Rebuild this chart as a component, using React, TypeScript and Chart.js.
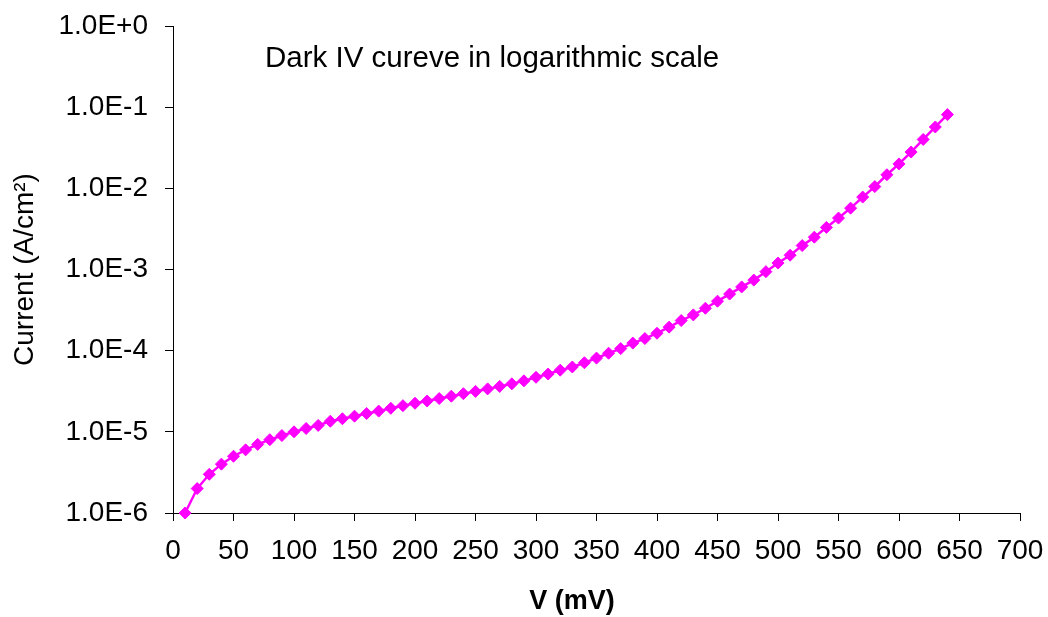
import React, { useEffect, useRef } from 'react';
import { Chart, registerables } from 'chart.js';

Chart.register(...registerables);

const voltages = [
  10, 20, 30, 40, 50, 60, 70, 80, 90, 100,
  110, 120, 130, 140, 150, 160, 170, 180, 190, 200,
  210, 220, 230, 240, 250, 260, 270, 280, 290, 300,
  310, 320, 330, 340, 350, 360, 370, 380, 390, 400,
  410, 420, 430, 440, 450, 460, 470, 480, 490, 500,
  510, 520, 530, 540, 550, 560, 570, 580, 590, 600,
  610, 620, 630, 640,
];

const currents = [
  1.0e-6, 2.0e-6, 3.0e-6, 4.0e-6, 5.0e-6, 6.0e-6, 7.0e-6, 8.0e-6, 9.0e-6, 1.0e-5,
  1.1e-5, 1.2e-5, 1.35e-5, 1.45e-5, 1.56e-5, 1.68e-5, 1.8e-5, 1.95e-5, 2.1e-5, 2.25e-5,
  2.4e-5, 2.57e-5, 2.75e-5, 2.95e-5, 3.15e-5, 3.38e-5, 3.63e-5, 3.9e-5, 4.25e-5, 4.7e-5,
  5.15e-5, 5.75e-5, 6.3e-5, 7.1e-5, 8.1e-5, 9.3e-5, 1.06e-4, 1.24e-4, 1.41e-4, 1.64e-4,
  1.95e-4, 2.35e-4, 2.76e-4, 3.33e-4, 4.07e-4, 4.98e-4, 6.1e-4, 7.4e-4, 9.4e-4, 1.2e-3,
  1.5e-3, 1.97e-3, 2.5e-3, 3.3e-3, 4.3e-3, 5.7e-3, 7.8e-3, 1.05e-2, 1.47e-2, 2.0e-2,
  2.8e-2, 4.0e-2, 5.7e-2, 8.1e-2,
];

const yTickValues = [1e-6, 1e-5, 1e-4, 1e-3, 1e-2, 1e-1, 1];
const xMin = 0;
const xMax = 700;
const xStep = 50;

const chartTitle = 'Dark IV cureve in logarithmic scale';
const xTitle = 'V (mV)';
const yTitle = 'Current (A/cm²)';

const FONT = '"Liberation Sans", Arial, sans-serif';

const textPlugin = {
  id: 'textPlugin',
  afterDraw(chart: any) {
    const { ctx, chartArea } = chart;
    ctx.save();
    ctx.fillStyle = '#000';
    ctx.textBaseline = 'middle';
    ctx.textAlign = 'left';
    ctx.font = `29.5px ${FONT}`;
    ctx.fillText(chartTitle, chartArea.left + 92, chartArea.top + 33);
    ctx.textAlign = 'center';
    ctx.font = `bold 27px ${FONT}`;
    ctx.fillText(xTitle, 572, 602);
    ctx.restore();
  },
};

export default function App() {
  const canvasRef = useRef<HTMLCanvasElement | null>(null);

  useEffect(() => {
    if (!canvasRef.current) return;
    const points = voltages.map((v, i) => ({ x: v, y: currents[i] }));
    const chart = new Chart(canvasRef.current, {
      type: 'line',
      data: {
        datasets: [
          {
            label: 'Dark IV',
            data: points,
            borderColor: '#FF00FF',
            backgroundColor: '#FF00FF',
            borderWidth: 2.5,
            pointStyle: 'rectRot',
            pointRadius: 6,
            pointBorderWidth: 1,
            pointBackgroundColor: '#FF00FF',
            pointBorderColor: '#FF00FF',
            tension: 0,
            clip: false as any,
          },
        ],
      },
      options: {
        animation: false,
        responsive: false,
        layout: { autoPadding: false, padding: { left: 0, right: 28, top: 26, bottom: 0 } },
        plugins: {
          legend: { display: false },
          tooltip: { enabled: false },
          title: { display: false },
        },
        scales: {
          x: {
            type: 'linear',
            min: xMin,
            max: xMax,
            afterFit: (s: any) => {
              s.height = 104;
              s.paddingLeft = 0;
              s.paddingRight = 0;
            },
            grid: {
              display: true,
              drawOnChartArea: false,
              drawTicks: true,
              tickLength: 8,
              color: '#000',
              lineWidth: 1,
            },
            border: { display: true, color: '#000', width: 1 },
            ticks: {
              stepSize: xStep,
              autoSkip: false,
              maxRotation: 0,
              padding: 13,
              color: '#000',
              font: { family: FONT, size: 28 },
            },
            title: { display: false },
          },
          y: {
            type: 'logarithmic',
            min: 1e-6,
            max: 1,
            afterFit: (s: any) => {
              s.width = 173;
              s.paddingTop = 0;
              s.paddingBottom = 0;
            },
            afterBuildTicks: (s: any) => {
              s.ticks = yTickValues.map((v) => ({ value: v }));
            },
            grid: {
              display: true,
              drawOnChartArea: false,
              drawTicks: true,
              tickLength: 8,
              color: '#000',
              lineWidth: 1,
            },
            border: { display: true, color: '#000', width: 1 },
            ticks: {
              autoSkip: false,
              padding: 17,
              color: '#000',
              font: { family: FONT, size: 28 },
              callback: (value: any) => {
                const e = Math.round(Math.log10(Number(value)));
                return '1.0E' + (e >= 0 ? '+' : '') + e;
              },
            },
            title: {
              display: true,
              text: yTitle,
              color: '#000',
              font: { family: FONT, size: 28 },
              padding: { top: 8, bottom: 0 },
            },
          },
        },
      },
      plugins: [textPlugin],
    });
    return () => chart.destroy();
  }, []);

  return (
    <div style={{ position: 'absolute', left: 0, top: 0, width: 1048, height: 617, background: '#fff' }}>
      <canvas ref={canvasRef} width={1048} height={617} />
    </div>
  );
}
